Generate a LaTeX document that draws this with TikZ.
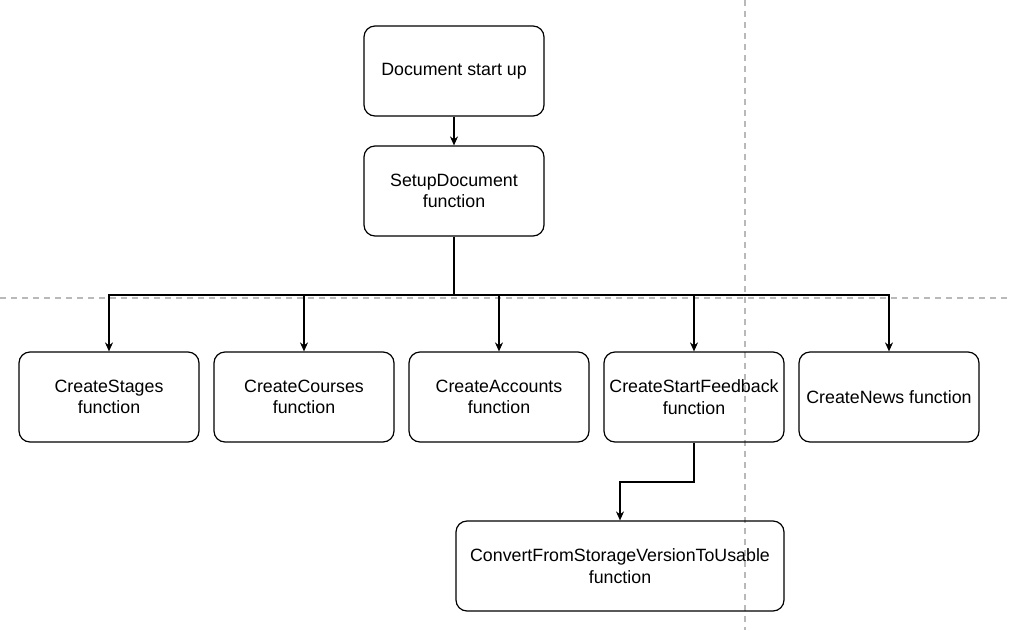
\documentclass[tikz,border=0pt]{standalone}
\usepackage{fontspec}
\setmainfont{Liberation Sans}
\usetikzlibrary{arrows.meta}

\begin{document}
\begin{tikzpicture}[x=1pt, y=-1pt, inner sep=3pt, line width=1.2pt, >={Stealth[length=9pt, width=8pt]}]
		\tikzstyle{every node}=[align=center, font=\fontsize{17.8}{21.5}\selectfont]
		\tikzstyle{func}=[draw, rounded corners=11pt, minimum width=180pt, minimum height=90pt]
		\tikzstyle{guide}=[draw=gray!55, line width=1.3pt, dash pattern=on 6pt off 5pt]
			\useasboundingbox (0, 0) rectangle (1010, 630);

			\draw[guide] (0, 298) -- (1010, 298);
			\draw[guide] (745, 0) -- (745, 630);

			\node[func] (startup) at (454, 71) {Document start up};
			\node[func] (setup) at (454, 191) {SetupDocument\\function};
			\node[func] (stages) at (109, 397) {CreateStages\\function};
			\node[func] (courses) at (304, 397) {CreateCourses\\function};
			\node[func] (accounts) at (499, 397) {CreateAccounts\\function};
			\node[func] (feedback) at (694, 397) {CreateStartFeedback\\function};
			\node[func] (news) at (889, 397) {CreateNews function};
			\node[func, minimum width=328pt] (convert) at (620, 566) {ConvertFromStorageVersionToUsable\\function};

			\coordinate (split) at (454, 295);
			\coordinate (bend) at (694, 482);

			\draw[->] (startup) -- (setup);
			\draw[->] (setup) -- (split) -| (stages.north);
			\draw[->] (split) -| (courses.north);
			\draw[->] (split) -| (accounts.north);
			\draw[->] (split) -| (feedback.north);
			\draw[->] (split) -| (news.north);
			\draw[->] (feedback) -- (bend) -| (convert.north);
		\end{tikzpicture}
\end{document}
